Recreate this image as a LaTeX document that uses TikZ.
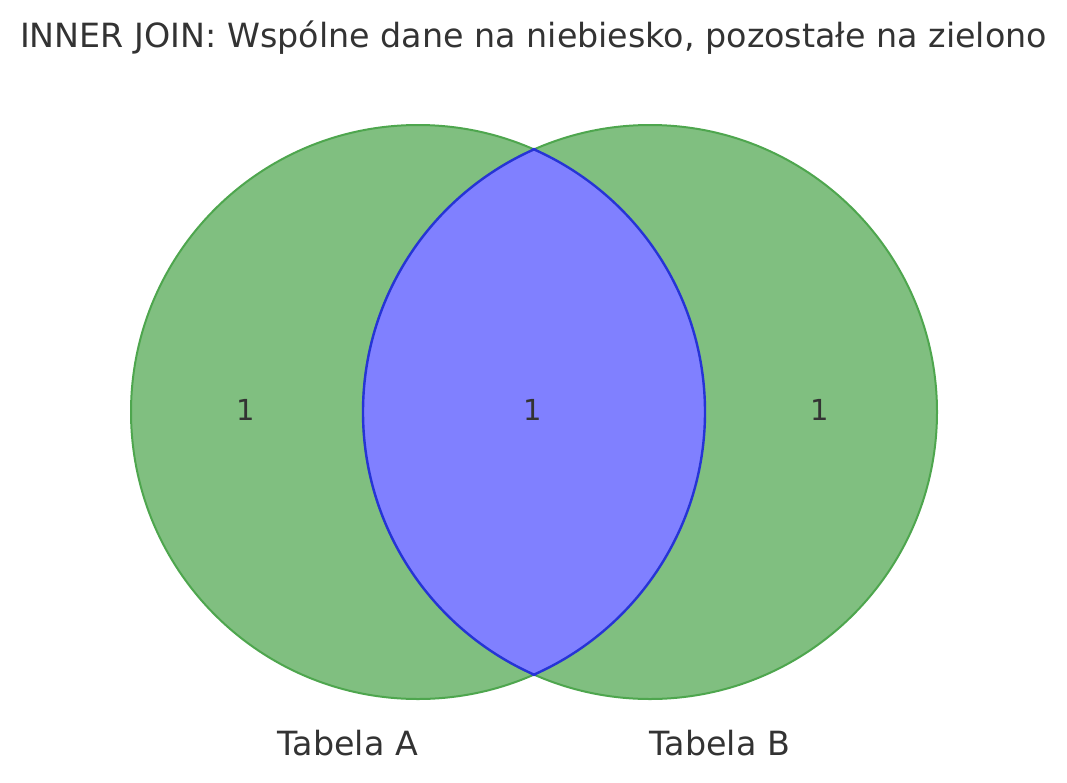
\documentclass[tikz,border=0pt]{standalone}
\usepackage{fontspec}
\setmainfont{DejaVu Sans}
\usepackage{tikz}
\definecolor{txtgray}{RGB}{51,51,51}
\definecolor{setgreen}{RGB}{128,191,128}
\definecolor{setgreenline}{RGB}{78,166,78}
\definecolor{setblue}{RGB}{128,128,255}
\definecolor{setblueline}{RGB}{38,52,214}
\tikzset{
  bigtext/.style={text=txtgray, font=\fontsize{25}{30}\selectfont},
  numtext/.style={text=txtgray, font=\fontsize{21.7}{26}\selectfont},
}

\begin{document}
\begin{tikzpicture}[x=0.75pt, y=-0.75pt]
    \useasboundingbox (0,0) rectangle (1067,782);

    % set centres
    \coordinate (cA) at (418,412);
    \coordinate (cB) at (650,412);

    % both tables in green
    \draw[fill=setgreen, draw=setgreenline, line width=1.5pt] (cA) circle (287);
    \draw[fill=setgreen, draw=setgreenline, line width=1.5pt] (cB) circle (287);

    % common part in blue
    \begin{scope}
        \clip (cA) circle (287);
        \fill[setblue] (cB) circle (287);
    \end{scope}
    \begin{scope}
        \clip (cA) circle (288.5);
        \draw[setblueline, line width=1.8pt] (cB) circle (287);
    \end{scope}
    \begin{scope}
        \clip (cB) circle (288.5);
        \draw[setblueline, line width=1.8pt] (cA) circle (287);
    \end{scope}

    % counts
    \node[numtext] (nA) at (246,410) {1};
    \node[numtext] (nAB) at (533,410) {1};
    \node[numtext] (nB) at (820,410) {1};

    % set names
    \node[bigtext, anchor=base] (labA) at (348,755) {Tabela A};
    \node[bigtext, anchor=base] (labB) at (720,755) {Tabela B};

    % title
    \node[bigtext, anchor=base] (title) at (533.5,47) {INNER JOIN: Wspólne dane na niebiesko, pozostałe na zielono};
\end{tikzpicture}
\end{document}
